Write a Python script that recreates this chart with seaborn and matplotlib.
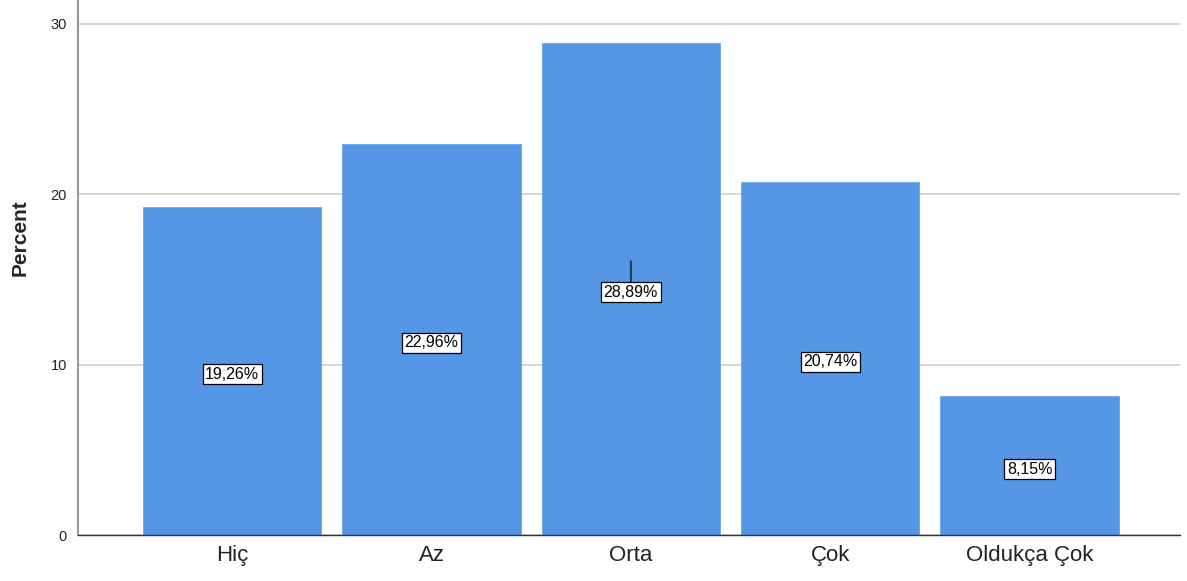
import numpy as np
import pandas as pd
import matplotlib
matplotlib.use("Agg")
import matplotlib.pyplot as plt
import seaborn as sns

categories = ["Hiç", "Az", "Orta", "Çok", "Oldukça Çok"]
percents = [19.26, 22.96, 28.89, 20.74, 8.15]
labels = ["19,26%", "22,96%", "28,89%", "20,74%", "8,15%"]
y_ticks = [0, 10, 20, 30]

sns.set_style("white")
plt.rcParams['font.family'] = ['Liberation Sans', 'DejaVu Sans']

df = pd.DataFrame({"cat": categories, "pct": percents})

fig = plt.figure(figsize=(11.87, 5.81), dpi=100)
ax = fig.add_axes([0.0657, 0.079, 0.9283, 0.921])

sns.barplot(data=df, x="cat", y="pct", color="#5596e6", saturation=1,
            width=0.895, edgecolor="#6aa5ee", linewidth=0.6, ax=ax, zorder=2)

ax.set_ylim(0, 31.4)
ax.set_xlim(-0.774, 4.754)
ax.set_yticks(y_ticks)
ax.yaxis.grid(True, color="#d0d0d0", linewidth=1.2, zorder=0)
ax.set_axisbelow(True)

for i, (v, lab) in enumerate(zip(percents, labels)):
    if categories[i] == "Orta":
        # leader line above the Orta label
        ax.annotate("", xy=(i, v / 2), xytext=(0, 22), textcoords="offset points",
                    arrowprops=dict(arrowstyle="-", color="#1a2a3a", lw=1.2), zorder=3)
    ax.text(i, v / 2 - 0.2, lab, ha="center", va="center", fontsize=11.5, color="black", zorder=4,
            bbox=dict(boxstyle="square,pad=0.16", fc="white", ec="black", lw=0.9))

ax.set_xlabel("")
ax.set_ylabel("Percent", fontsize=15, fontweight="bold")
ax.yaxis.set_label_coords(-0.0436, 0.555)
ax.tick_params(axis="x", labelsize=16, length=0, pad=7, colors="#222222")
ax.tick_params(axis="y", labelsize=10.5, length=0, pad=8, colors="#222222")

for s in ["top", "right"]:
    ax.spines[s].set_visible(False)
ax.spines["left"].set_color("#999999")
ax.spines["left"].set_linewidth(1.5)
ax.spines["bottom"].set_color("#333333")
ax.spines["bottom"].set_linewidth(1.0)

fig.savefig("out.png", dpi=100)
